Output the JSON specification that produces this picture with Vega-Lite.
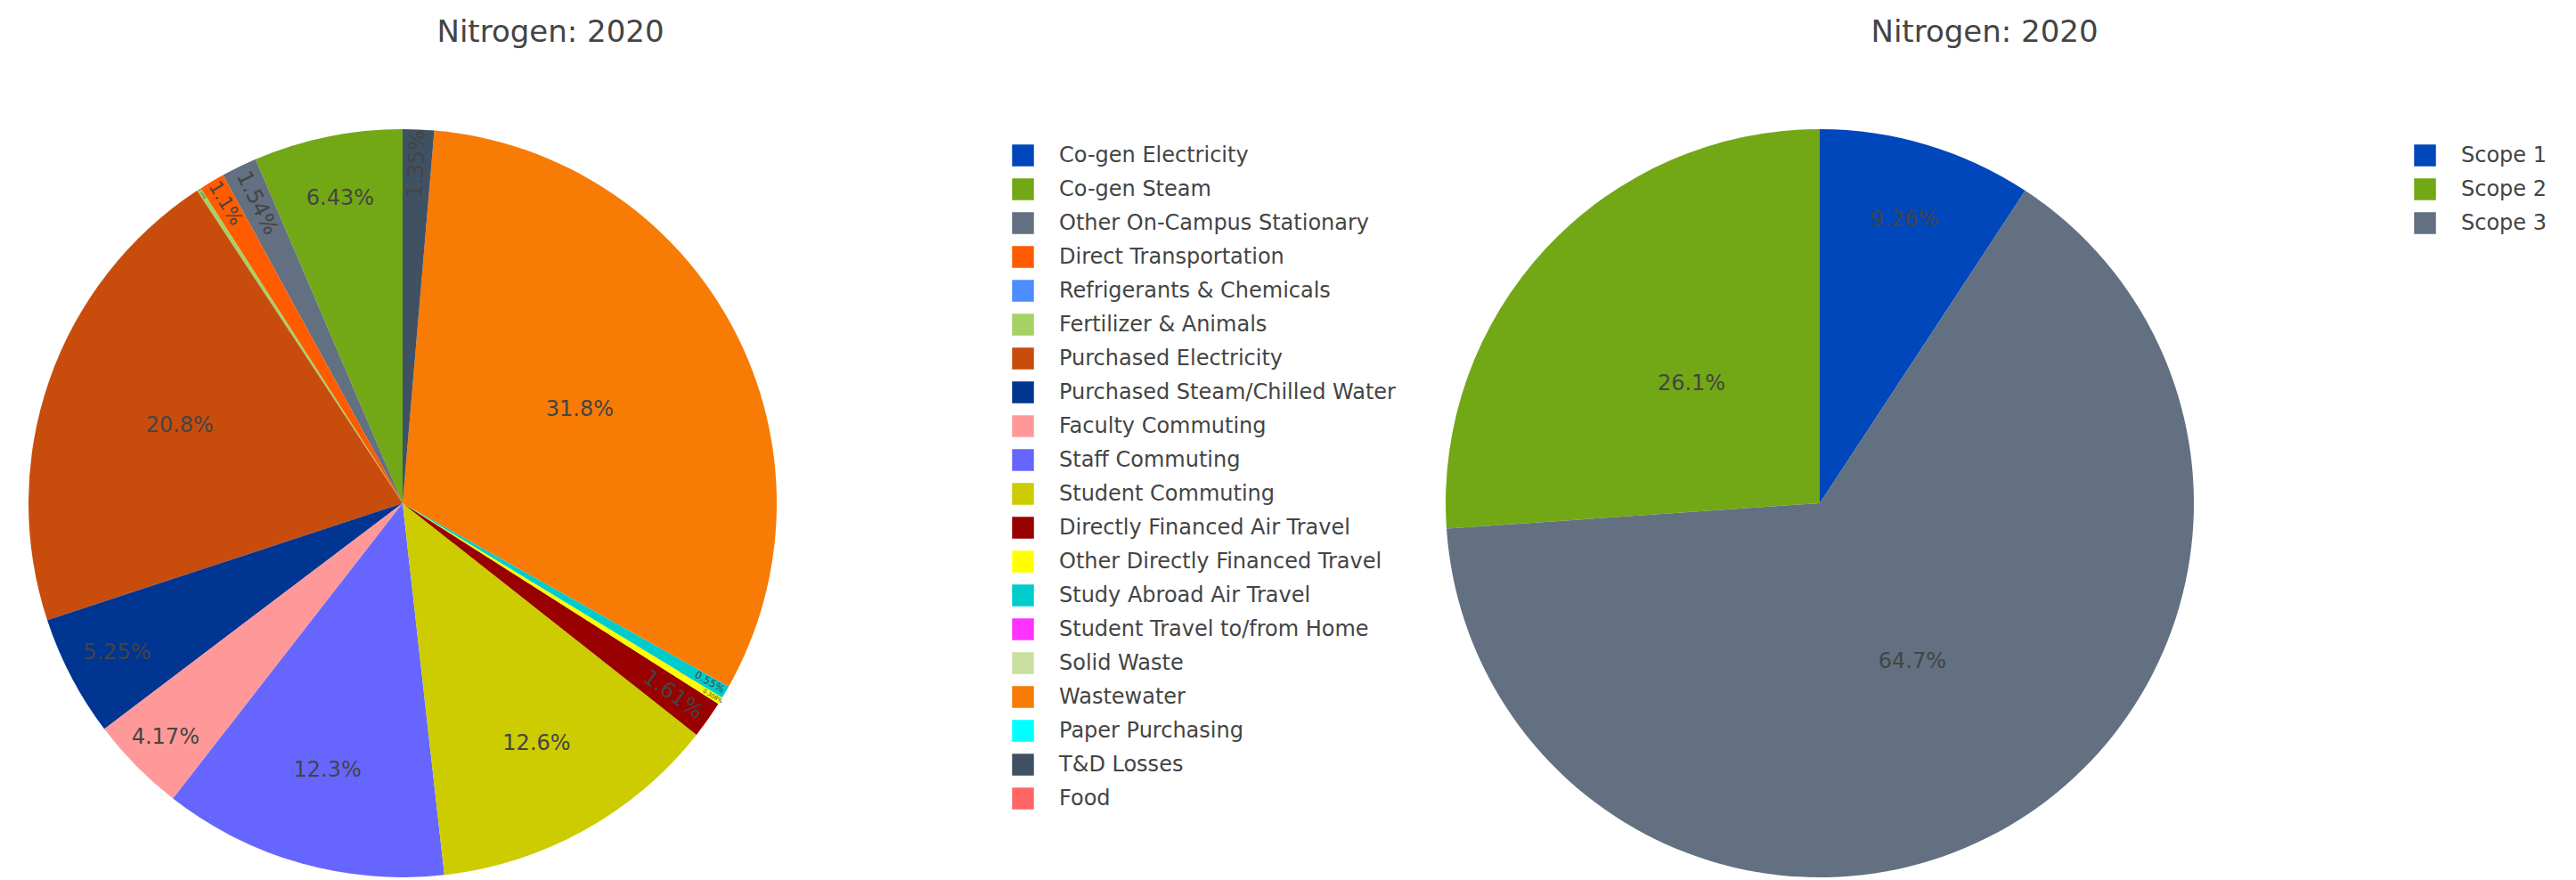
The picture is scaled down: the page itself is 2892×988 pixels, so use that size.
{
  "$schema": "https://vega.github.io/schema/vega-lite/v6.json",
  "background": "white",
  "padding": {"left": 32, "top": 20, "right": 0, "bottom": 0},
  "spacing": 56,
  "config": {
    "view": {"stroke": null},
    "font": "DejaVu Sans",
    "legend": {
      "padding": 0,
      "title": null,
      "labelFont": "DejaVu Sans",
      "labelFontSize": 24,
      "labelColor": "#444444",
      "labelLimit": 1000,
      "labelOffset": 28,
      "symbolType": "square",
      "symbolSize": 600,
      "symbolStrokeWidth": 0,
      "symbolOpacity": 1,
      "rowPadding": 13
    }
  },
  "resolve": {"scale": {"color": "independent", "theta": "independent", "radius": "independent", "size": "independent"}, "legend": {"color": "independent"}},
  "hconcat": [
    {
      "width": 840,
      "height": 806,
      "title": {"text": "Nitrogen: 2020", "fontSize": 34, "font": "DejaVu Sans", "fontWeight": "normal", "color": "#444444", "anchor": "middle", "frame": "group", "dx": 166, "offset": 64, "baseline": "alphabetic"},
      "data": {"values": [
        {"category": "Co-gen Electricity", "idx": 1, "share": 0},
        {"category": "Co-gen Steam", "idx": 2, "share": 0.0643},
        {"category": "Other On-Campus Stationary", "idx": 3, "share": 0.0154},
        {"category": "Direct Transportation", "idx": 4, "share": 0.011},
        {"category": "Refrigerants & Chemicals", "idx": 5, "share": 0},
        {"category": "Fertilizer & Animals", "idx": 6, "share": 0.0019},
        {"category": "Purchased Electricity", "idx": 7, "share": 0.208},
        {"category": "Purchased Steam/Chilled Water", "idx": 8, "share": 0.0525},
        {"category": "Faculty Commuting", "idx": 9, "share": 0.0417},
        {"category": "Staff Commuting", "idx": 10, "share": 0.123},
        {"category": "Student Commuting", "idx": 11, "share": 0.126},
        {"category": "Directly Financed Air Travel", "idx": 12, "share": 0.0161},
        {"category": "Other Directly Financed Travel", "idx": 13, "share": 0.00308},
        {"category": "Study Abroad Air Travel", "idx": 14, "share": 0.0055},
        {"category": "Student Travel to/from Home", "idx": 15, "share": 0},
        {"category": "Solid Waste", "idx": 16, "share": 0},
        {"category": "Wastewater", "idx": 17, "share": 0.318},
        {"category": "Paper Purchasing", "idx": 18, "share": 0},
        {"category": "T&D Losses", "idx": 19, "share": 0.0135},
        {"category": "Food", "idx": 20, "share": 0}
      ]},
      "transform": [
        {"stack": "share", "groupby": [], "sort": [{"field": "idx", "order": "descending"}], "as": ["s0", "s1"], "offset": "normalize"},
        {"calculate": "(datum.s0 + datum.s1) / 2", "as": "mid"},
        {"calculate": "datum.mid < 0.5 ? datum.mid * 360 - 90 : datum.mid * 360 - 270", "as": "rot"}
      ],
      "resolve": {"scale": {"radius": "independent", "size": "independent"}},
      "layer": [
        {
          "mark": {"type": "arc", "outerRadius": 420, "strokeWidth": 0},
          "encoding": {
            "theta": {"field": "s0", "type": "quantitative", "scale": {"domain": [0, 1]}, "stack": null},
            "theta2": {"field": "s1"},
            "color": {
              "field": "category", "type": "nominal",
              "scale": {
                "domain": ["Co-gen Electricity", "Co-gen Steam", "Other On-Campus Stationary", "Direct Transportation", "Refrigerants & Chemicals", "Fertilizer & Animals", "Purchased Electricity", "Purchased Steam/Chilled Water", "Faculty Commuting", "Staff Commuting", "Student Commuting", "Directly Financed Air Travel", "Other Directly Financed Travel", "Study Abroad Air Travel", "Student Travel to/from Home", "Solid Waste", "Wastewater", "Paper Purchasing", "T&D Losses", "Food"],
                "range": ["#0047BB", "#72A815", "#627081", "#FF5B00", "#4C8EFF", "#A6D164", "#C84D0C", "#003591", "#FF9999", "#6666FF", "#CCCC00", "#990000", "#FFFF00", "#00CCCC", "#FF33FF", "#C9E0A0", "#F77B05", "#00FFFF", "#3F5163", "#FF6666"]
              },
              "legend": {"orient": "right", "offset": 264}
            }
          }
        },
        {
          "transform": [{"filter": "datum.share >= 0.02"}],
          "mark": {"type": "text", "fontSize": 24, "font": "DejaVu Sans", "color": "#444444", "align": "center", "baseline": "middle"},
          "encoding": {
            "theta": {"field": "mid", "type": "quantitative", "scale": {"domain": [0, 1]}, "stack": null},
            "radius": {"field": "share", "type": "quantitative", "scale": {"type": "linear", "zero": false, "clamp": true, "domain": [0.0417, 0.0643, 0.125, 0.208, 0.318], "range": [374, 349, 310, 265, 225]}},
            "text": {"field": "share", "type": "quantitative", "format": ".3~p"}
          }
        },
        {
          "transform": [{"filter": "datum.share > 0 && datum.share < 0.02"}],
          "mark": {"type": "text", "font": "DejaVu Sans", "color": "#444444", "align": "center", "baseline": "middle"},
          "encoding": {
            "theta": {"field": "mid", "type": "quantitative", "scale": {"domain": [0, 1]}, "stack": null},
            "radius": {"field": "share", "type": "quantitative", "scale": {"type": "linear", "zero": false, "clamp": true, "domain": [0.0019, 0.00308, 0.0055, 0.011, 0.0135, 0.0161], "range": [414, 410, 399, 391, 381, 372]}},
            "size": {"field": "share", "type": "quantitative", "legend": null, "scale": {"type": "linear", "zero": false, "clamp": true, "domain": [0.0019, 0.00308, 0.0055, 0.011, 0.0135], "range": [4, 6.5, 11.5, 21, 24]}},
            "angle": {"field": "rot", "type": "quantitative", "scale": null},
            "text": {"field": "share", "type": "quantitative", "format": ".3~p"}
          }
        }
      ]
    },
    {
      "width": 840,
      "height": 806,
      "title": {"text": "Nitrogen: 2020", "fontSize": 34, "font": "DejaVu Sans", "fontWeight": "normal", "color": "#444444", "anchor": "middle", "frame": "group", "dx": 185, "offset": 64, "baseline": "alphabetic"},
      "data": {"values": [
        {"scope": "Scope 1", "slice": 1, "share": 0.0926},
        {"scope": "Scope 2", "slice": 3, "share": 0.261},
        {"scope": "Scope 3", "slice": 2, "share": 0.647}
      ]},
      "transform": [
        {"stack": "share", "groupby": [], "sort": [{"field": "slice", "order": "ascending"}], "as": ["s0", "s1"], "offset": "normalize"},
        {"calculate": "(datum.s0 + datum.s1) / 2", "as": "mid"}
      ],
      "layer": [
        {
          "mark": {"type": "arc", "outerRadius": 420, "strokeWidth": 0},
          "encoding": {
            "theta": {"field": "s0", "type": "quantitative", "scale": {"domain": [0, 1]}, "stack": null},
            "theta2": {"field": "s1"},
            "color": {
              "field": "scope", "type": "nominal",
              "scale": {"domain": ["Scope 1", "Scope 2", "Scope 3"], "range": ["#0047BB", "#72A815", "#627081"]},
              "legend": {"orient": "right", "offset": 247}
            }
          }
        },
        {
          "mark": {"type": "text", "fontSize": 24, "font": "DejaVu Sans", "color": "#444444", "align": "center", "baseline": "middle"},
          "encoding": {
            "theta": {"field": "mid", "type": "quantitative", "scale": {"domain": [0, 1]}, "stack": null},
            "radius": {"field": "share", "type": "quantitative", "scale": {"type": "linear", "zero": false, "clamp": true, "domain": [0.0926, 0.261, 0.647], "range": [332, 197, 206]}},
            "text": {"field": "share", "type": "quantitative", "format": ".3~p"}
          }
        }
      ]
    }
  ]
}
